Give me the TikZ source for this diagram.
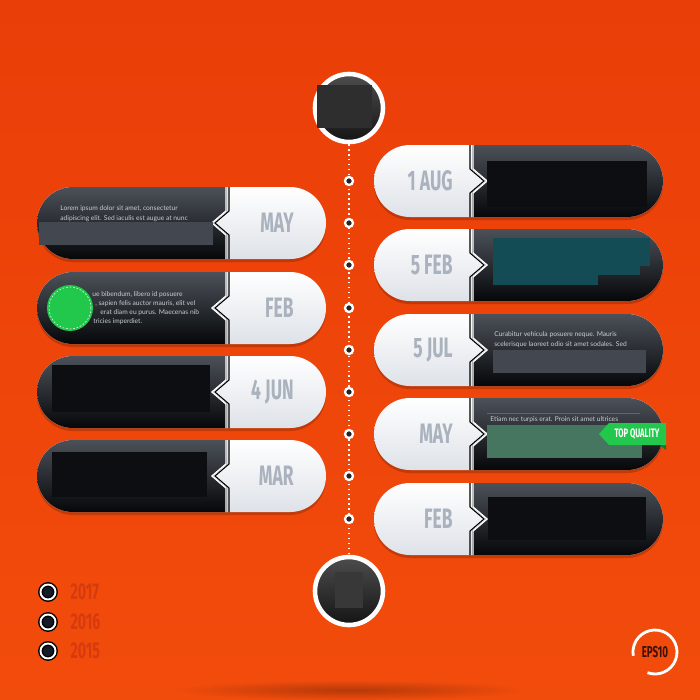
\documentclass[tikz,border=0pt]{standalone}
\usepackage{fontspec}
\setmainfont{Lato}
\newfontfamily\condfont[FakeStretch=0.62]{Fira Sans}
\usetikzlibrary{positioning}

\definecolor{bgtop}{RGB}{234,62,8}
\definecolor{bgbot}{RGB}{242,76,12}
\definecolor{pilltop}{RGB}{76,81,89}
\definecolor{pillmid}{RGB}{30,33,38}
\definecolor{pillbot}{RGB}{6,7,9}
\definecolor{pillwhite}{RGB}{222,226,232}
\definecolor{dategray}{RGB}{170,178,190}
\definecolor{loremgray}{RGB}{200,205,212}
\definecolor{blockgray}{RGB}{66,71,80}
\definecolor{blockblack}{RGB}{12,14,17}
\definecolor{tealblock}{RGB}{20,76,86}
\definecolor{sageblock}{RGB}{70,118,96}
\definecolor{topgreen}{RGB}{34,200,76}
\definecolor{yeartxt}{RGB}{214,58,14}
\definecolor{yearnavy}{RGB}{20,26,40}
\definecolor{epsdark}{RGB}{60,18,8}

\tikzset{
  datelabel/.style={font=\condfont\bfseries\fontsize{16}{16}\selectfont, text=dategray, anchor=east, inner sep=0pt},
  lorem/.style={font=\fontsize{3.8}{4.5}\selectfont, text=loremgray, anchor=west, inner sep=0pt},
  dotmark/.style={circle, fill=black!85, draw=white, line width=1.3pt, minimum size=0.16cm, inner sep=0pt},
  bigring/.style={circle, draw=white, line width=2.6pt, minimum size=1.36cm, inner sep=0pt, top color=black!70, bottom color=black!92},
  yearmark/.style={circle, fill=yearnavy, draw=black, line width=0.8pt, double=white, double distance=1.1pt, minimum size=0.3cm, inner sep=0pt},
  yearlabel/.style={font=\condfont\bfseries\fontsize{13}{13}\selectfont, text=yeartxt, inner sep=0pt},
}

\begin{document}
\begin{tikzpicture}[x=0.02cm, y=-0.02cm]
    \useasboundingbox (0,0) rectangle (700,700);

    % background
    \shade[top color=bgtop, bottom color=bgbot] (0,0) rectangle (700,700);
    \shade[inner color=black!25!bgbot, outer color=bgbot] (350,690) ellipse (180 and 10);

    % left pills
    \foreach \yc/\dt [count=\i] in {223/MAY, 308/FEB, 392/4 JUN, 476/MAR} {
        \fill[black, opacity=0.18, rounded corners=0.72cm] (37,\yc-34) rectangle (326,\yc+39);
        \shade[top color=white, bottom color=pillwhite, rounded corners=0.72cm] (37,\yc-36) rectangle (326,\yc+36);
        \begin{scope}
            \clip (30,\yc-40) -- (227,\yc-40) -- (227,\yc-12) -- (213,\yc) -- (227,\yc+12) -- (227,\yc+40) -- (30,\yc+40) -- cycle;
            \shade[top color=pilltop, middle color=pillmid, bottom color=pillbot, rounded corners=0.72cm] (37,\yc-36) rectangle (326,\yc+36);
        \end{scope}
        \draw[white, line width=0.8pt] (226,\yc-36) -- (226,\yc-12) -- (212,\yc) -- (226,\yc+12) -- (226,\yc+36);
        \draw[black, line width=0.6pt] (229,\yc-36) -- (229,\yc-12) -- (215,\yc) -- (229,\yc+12) -- (229,\yc+36);
        \node[datelabel] (ldate\i) at (294,\yc) {\dt};
    }

    % right pills
    \foreach \yc/\dt [count=\i] in {181/1 AUG, 265/5 FEB, 350/5 JUL, 434/MAY, 519/FEB} {
        \fill[black, opacity=0.18, rounded corners=0.72cm] (374,\yc-34) rectangle (663,\yc+39);
        \shade[top color=white, bottom color=pillwhite, rounded corners=0.72cm] (374,\yc-36) rectangle (663,\yc+36);
        \begin{scope}
            \clip (700,\yc-40) -- (472,\yc-40) -- (472,\yc-12) -- (486,\yc) -- (472,\yc+12) -- (472,\yc+40) -- (700,\yc+40) -- cycle;
            \shade[top color=pilltop, middle color=pillmid, bottom color=pillbot, rounded corners=0.72cm] (374,\yc-36) rectangle (663,\yc+36);
        \end{scope}
        \draw[white, line width=0.8pt] (473,\yc-36) -- (473,\yc-12) -- (487,\yc) -- (473,\yc+12) -- (473,\yc+36);
        \draw[black, line width=0.6pt] (470,\yc-36) -- (470,\yc-12) -- (484,\yc) -- (470,\yc+12) -- (470,\yc+36);
        \node[datelabel] (rdate\i) at (453,\yc) {\dt};
    }

    % left texts and blocks
    \node[lorem] (ltxt1) at (60,209) {Lorem ipsum dolor sit amet, consectetur};
    \node[lorem] (ltxt2) at (60,219) {adipiscing elit. Sed iaculis est augue at nunc};
    \fill[blockgray] (39,222) rectangle (213,245);
    \node[lorem] (ltxt3) at (92,295) {ue bibendum, libero id posuere};
    \node[lorem] (ltxt4) at (95,304) {, sapien felis auctor mauris, elit vel};
    \node[lorem] (ltxt5) at (100,313) {erat diam eu purus. Maecenas nib};
    \node[lorem] (ltxt6) at (93,322) {tricies imperdiet.};
    \node[circle, fill=topgreen, minimum size=0.92cm, inner sep=0pt] (badge) at (70,308) {};
    \draw[white, dashed, line width=0.3pt, dash pattern=on 1pt off 1pt] (badge.center) circle[radius=0.42cm];
    \fill[blockblack] (52,365) rectangle (210,412);
    \fill[blockblack] (52,452) rectangle (207,497);

    % right texts and blocks
    \fill[blockblack] (487,161) rectangle (647,207);
    \fill[tealblock] (493,238) rectangle (650,266);
    \fill[tealblock] (493,266) rectangle (640,275);
    \fill[tealblock] (493,275) rectangle (598,285);
    \node[lorem] (rtxt1) at (494,335) {Curabitur vehicula posuere neque. Mauris};
    \node[lorem] (rtxt2) at (494,345) {scelerisque laoreet odio sit amet sodales. Sed};
    \fill[blockgray] (493,350) rectangle (646,373);
    \draw[sageblock, line width=0.5pt] (487,413) -- (640,413);
    \node[lorem] (rtxt3) at (490,420) {Etiam nec turpis erat. Proin sit amet ultrices};
    \fill[sageblock] (487,425) rectangle (642,458);
    \fill[blockblack] (488,497) rectangle (646,540);

    % top quality tag
    \fill[topgreen!60!black] (660,445) -- (666,445) -- (666,450) -- cycle;
    \fill[topgreen] (599,434) -- (609,423) -- (666,423) -- (666,445) -- (609,445) -- cycle;
    \node[font=\condfont\bfseries\fontsize{7}{7}\selectfont, text=white, inner sep=0pt] (tagtext) at (637,434) {TOP QUALITY};

    % timeline
    \node[bigring] (topc) at (349,108) {};
    \node[bigring] (botc) at (349,591) {};
    \fill[black!82] (317,85) rectangle (372,128);
    \fill[black!78] (335,572) rectangle (363,608);
    \draw[white, line width=0.8pt, dotted] (topc) -- (botc);
    \foreach \y [count=\i] in {181,223,265,308,350,392,434,476,519}
        \node[dotmark] (tdot\i) at (349,\y) {};

    % years
    \node[yearmark] (y2017) at (48,592) {};
    \node[yearmark] (y2016) at (48,622) {};
    \node[yearmark] (y2015) at (48,651) {};
    \node[yearlabel, right=0.28cm of y2017] (t2017) {2017};
    \node[yearlabel, right=0.28cm of y2016] (t2016) {2016};
    \node[yearlabel, right=0.28cm of y2015] (t2015) {2015};

    % eps
    \node[font=\condfont\bfseries\fontsize{9}{9}\selectfont, text=epsdark, inner sep=0pt] (eps) at (655,652) {EPS10};
    \draw[white, line width=1.6pt] (eps.center) ++(250:0.44cm) arc[start angle=250, end angle=550, radius=0.44cm];
\end{tikzpicture}
\end{document}
